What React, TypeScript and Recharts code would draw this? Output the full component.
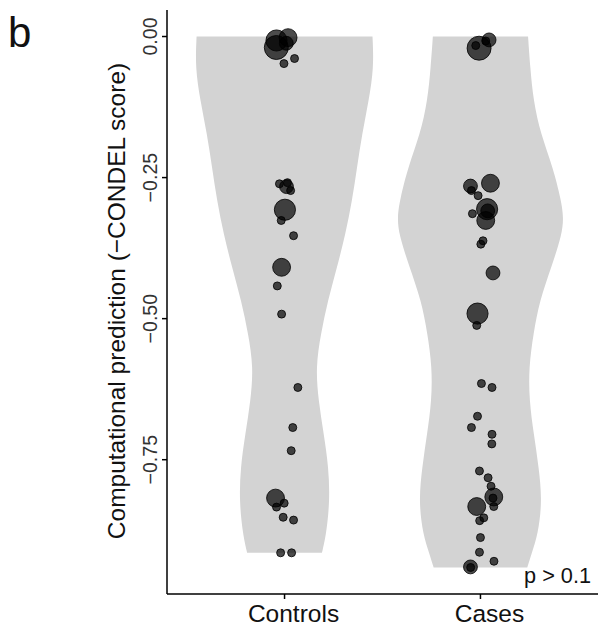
import React from 'react';
import { ScatterChart, Scatter, XAxis, YAxis, ZAxis } from 'recharts';

const categories = ['Controls', 'Cases'];
const yTicks = [0, -0.25, -0.5, -0.75];
const pLabel = 'p > 0.1';
const panelLabel = 'b';
const yTitle = 'Computational prediction (\u2212CONDEL score)';

// Violin outlines: score values and half-widths (in category units)
const controlsViolinV = [0, -0.0544, -0.1135, -0.1725, -0.2317, -0.2908, -0.35, -0.409, -0.468, -0.527, -0.586, -0.645, -0.704, -0.764, -0.823, -0.882, -0.915];
const controlsViolinHalf = [0.449, 0.456, 0.43, 0.396, 0.37, 0.345, 0.311, 0.268, 0.221, 0.185, 0.159, 0.173, 0.2, 0.225, 0.231, 0.213, 0.191];
const casesViolinV = [0, -0.0544, -0.1135, -0.1725, -0.2317, -0.2908, -0.32, -0.35, -0.409, -0.468, -0.527, -0.586, -0.645, -0.704, -0.764, -0.823, -0.882, -0.917, -0.941];
const casesViolinHalf = [0.243, 0.254, 0.27, 0.307, 0.37, 0.412, 0.424, 0.417, 0.362, 0.302, 0.27, 0.247, 0.249, 0.272, 0.298, 0.315, 0.294, 0.26, 0.239];

// Points: score, horizontal jitter, size class
const controlsScore = [-0.0195, -0.007, -0.002, -0.012, -0.039, -0.048, -0.261, -0.259, -0.266, -0.273, -0.307, -0.326, -0.353, -0.409, -0.442, -0.492, -0.622, -0.693, -0.734, -0.818, -0.827, -0.834, -0.852, -0.857, -0.915, -0.915];
const controlsJitter = [-0.042, -0.041, 0.018, 0.009, 0.051, -0.003, -0.026, 0.015, 0.01, 0.031, 0.002, -0.017, 0.046, -0.015, -0.037, -0.015, 0.068, 0.042, 0.034, -0.046, -0.002, -0.041, -0.007, 0.046, -0.02, 0.036];
const controlsSize = [5, 4, 3, 2, 1, 1, 1, 1, 2, 1, 4, 1, 1, 3, 1, 1, 1, 1, 1, 3, 1, 1, 1, 1, 1, 1];

const casesScore = [-0.0207, -0.006, -0.008, -0.016, -0.265, -0.26, -0.273, -0.282, -0.306, -0.309, -0.326, -0.314, -0.362, -0.368, -0.419, -0.491, -0.512, -0.615, -0.622, -0.673, -0.693, -0.705, -0.722, -0.77, -0.782, -0.797, -0.816, -0.818, -0.833, -0.833, -0.853, -0.858, -0.888, -0.914, -0.93, -0.94, -0.941];
const casesJitter = [-0.007, 0.044, 0.027, -0.024, -0.051, 0.051, -0.046, -0.012, 0.034, 0.037, 0.027, -0.041, 0.013, 0.002, 0.064, -0.015, -0.019, 0.005, 0.059, -0.015, -0.046, 0.059, 0.058, -0.005, 0.039, 0.054, 0.068, 0.064, 0.068, -0.019, 0.017, -0.004, 0, -0.005, 0.069, -0.051, -0.05];
const casesSize = [5, 2, 1, 1, 2, 3, 1, 1, 4, 2, 3, 1, 1, 1, 2, 4, 1, 1, 1, 1, 1, 1, 1, 1, 1, 1, 3, 1, 1, 3, 1, 1, 1, 1, 1, 2, 1];

// Build a closed outline; the flat-bottom corners are repeated so the
// smoothing curve keeps them sharp.
const violin = (center: number, vs: number[], half: number[]) => {
  const left = vs.map((v, i) => ({ x: center - half[i], y: v }));
  const right = vs.map((v, i) => ({ x: center + half[i], y: v })).reverse();
  const bl = left[left.length - 1];
  const br = right[0];
  return [...left, bl, bl, br, br, ...right];
};

const pts = (center: number, score: number[], jitter: number[], size: number[]) =>
  score.map((v, i) => ({ x: center + jitter[i], y: v, z: size[i] }));

const controlsViolin = violin(1, controlsViolinV, controlsViolinHalf);
const casesViolin = violin(2, casesViolinV, casesViolinHalf);
const controlsPts = pts(1, controlsScore, controlsJitter, controlsSize);
const casesPts = pts(2, casesScore, casesJitter, casesSize);

const FONT = '"Liberation Sans", Arial, Helvetica, sans-serif';

const fmtY = (v: number) => {
  const s = Math.abs(v).toFixed(2);
  return v < 0 ? '\u2212' + s : s;
};

const YTick = (props: any) => {
  const { x, y, payload } = props;
  const bx = x - 3;
  return (
    <text x={bx} y={y} transform={`rotate(-90, ${bx}, ${y})`} textAnchor="middle" fontSize={19.6} fontFamily={FONT} fill="#333">
      {fmtY(payload.value)}
    </text>
  );
};

const XTick = (props: any) => {
  const { x, y, payload } = props;
  const idx = Math.round(payload.value) - 1;
  return (
    <text x={x + 9} y={y + 20.5} textAnchor="middle" fontSize={24.5} fontFamily={FONT} fill="#111">
      {categories[idx]}
    </text>
  );
};

const YTitle = (props: any) => {
  const vb = props.viewBox || { x: 107, y: 10, width: 60, height: 584 };
  const cx = vb.x + 18;
  const cy = vb.y + vb.height / 2 - 1;
  return (
    <g>
      <text x={cx} y={cy} transform={`rotate(-90, ${cx}, ${cy})`} textAnchor="middle" fontSize={24.5} fontFamily={FONT} fill="#111">
        {yTitle}
      </text>
      <text x={vb.x - 99} y={vb.y + 37} fontSize={42} fontFamily={FONT} fill="#111">
        {panelLabel}
      </text>
    </g>
  );
};

const PText = (props: any) => {
  const vb = props.viewBox || { x: 167, y: 594, width: 431, height: 31 };
  return (
    <text x={vb.x + vb.width - 7} y={vb.y - 11} textAnchor="end" fontSize={21.7} fontFamily={FONT} fill="#111">
      {pLabel}
    </text>
  );
};

const NoShape = () => <g />;

export default function App() {
  return (
    <div style={{ position: 'absolute', left: 0, top: 0, width: 598, height: 625, background: '#fff' }}>
      <ScatterChart width={598} height={625} margin={{ top: 10, right: 0, bottom: 0, left: 107 }}>
        <XAxis
          type="number"
          dataKey="x"
          domain={[0.4, 2.6]}
          ticks={[1, 2]}
          allowDataOverflow
          height={31}
          tick={<XTick />}
          tickSize={5}
          axisLine={{ stroke: '#000', strokeWidth: 1.5 }}
          tickLine={{ stroke: '#000', strokeWidth: 1.5 }}
          label={<PText />}
        />
        <YAxis
          type="number"
          dataKey="y"
          domain={[-0.988, 0.047]}
          ticks={yTicks}
          allowDataOverflow
          width={60}
          tick={<YTick />}
          tickSize={5}
          axisLine={{ stroke: '#000', strokeWidth: 1.5 }}
          tickLine={{ stroke: '#000', strokeWidth: 1.5 }}
          label={<YTitle />}
        />
        <ZAxis type="number" dataKey="z" domain={[1, 5]} range={[50, 452]} />
        <Scatter
          data={controlsViolin}
          isAnimationActive={false}
          line={{ fill: '#d3d3d3', stroke: 'none' }}
          lineType="joint"
          lineJointType="basis"
          shape={<NoShape />}
        />
        <Scatter
          data={casesViolin}
          isAnimationActive={false}
          line={{ fill: '#d3d3d3', stroke: 'none' }}
          lineType="joint"
          lineJointType="basis"
          shape={<NoShape />}
        />
        <Scatter
          data={controlsPts}
          isAnimationActive={false}
          fill="#000"
          fillOpacity={0.7}
          stroke="#000"
          strokeOpacity={0.8}
          strokeWidth={1}
        />
        <Scatter
          data={casesPts}
          isAnimationActive={false}
          fill="#000"
          fillOpacity={0.7}
          stroke="#000"
          strokeOpacity={0.8}
          strokeWidth={1}
        />
      </ScatterChart>
    </div>
  );
}
